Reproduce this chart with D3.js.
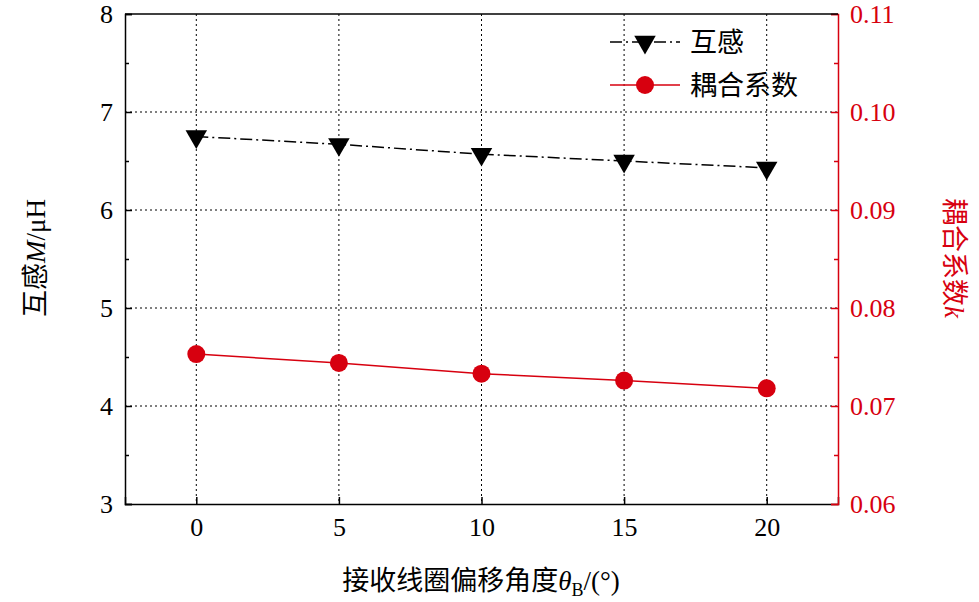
<!DOCTYPE html><html><head><meta charset="utf-8"><script src="https://cdn.jsdelivr.net/npm/d3@7"></script>
<style>body{margin:0;background:#fff}text{font-family:"Liberation Serif","Noto Sans CJK SC",serif}</style></head><body>
<svg id="c" width="979" height="602"></svg>
<script>
const angles=[0,5,10,15,20];
const mutual=[6.75,6.67,6.57,6.50,6.43];
const coupling=[0.0753,0.0744,0.0733,0.0726,0.0718];
const leftTicks=[3,4,5,6,7,8];
const rightTicks=[0.06,0.07,0.08,0.09,0.10,0.11];
const red="#d7000f";
const svg=d3.select("#c");
const L=125,R=838,T=14,B=504;
const x=d3.scaleLinear().domain([-2.5,22.5]).range([L,R]);
const y=d3.scaleLinear().domain([3,8]).range([B,T]);
const y2=d3.scaleLinear().domain([0.06,0.11]).range([B,T]);
const g=svg.append("g");
g.selectAll(".gx").data(angles).join("line").attr("x1",d=>x(d)).attr("x2",d=>x(d)).attr("y1",T).attr("y2",B).attr("stroke","#000").attr("stroke-dasharray","2,3").attr("stroke-width",1);
g.selectAll(".gy").data(leftTicks.slice(1,-1)).join("line").attr("y1",d=>y(d)).attr("y2",d=>y(d)).attr("x1",L).attr("x2",R).attr("stroke","#000").attr("stroke-dasharray","2,3").attr("stroke-width",1);
const fs="26px";
// minor ticks
svg.append("g").attr("transform",`translate(${L},0)`).call(d3.axisLeft(y).tickValues([3.5,4.5,5.5,6.5,7.5]).tickSize(-4).tickFormat("")).call(a=>a.select(".domain").remove()).selectAll("line").attr("stroke-width",1.5);
svg.append("g").attr("transform",`translate(${R},0)`).call(d3.axisRight(y2).tickValues([0.065,0.075,0.085,0.095,0.105]).tickSize(-4).tickFormat("")).call(a=>a.select(".domain").remove()).selectAll("line").attr("stroke",red).attr("stroke-width",1.5);
const ax=svg.append("g").attr("transform",`translate(0,${B})`).call(d3.axisBottom(x).tickValues(angles).tickSize(-7).tickPadding(14));
const ay=svg.append("g").attr("transform",`translate(${L},0)`).call(d3.axisLeft(y).tickValues(leftTicks).tickFormat(d3.format("d")).tickSize(-7).tickPadding(12));
const ay2=svg.append("g").attr("transform",`translate(${R},0)`).call(d3.axisRight(y2).tickValues(rightTicks).tickFormat(d3.format(".2f")).tickSize(-7).tickPadding(12));
[ax,ay,ay2].forEach(a=>{a.selectAll("text").style("font-size",fs);a.select(".domain").attr("stroke-width",1.5);a.selectAll(".tick line").attr("stroke-width",1.5);});
ay2.selectAll("text").attr("fill",red);ay2.select(".domain").attr("stroke",red);ay2.selectAll(".tick line").attr("stroke",red);
svg.append("line").attr("x1",L).attr("x2",R).attr("y1",T).attr("y2",T).attr("stroke","#000").attr("stroke-width",1.5);
svg.append("path").datum(angles.map((a,i)=>[a,mutual[i]])).attr("fill","none").attr("stroke","#000").attr("stroke-width",1.5).attr("stroke-dasharray","12,4,2,4").attr("d",d3.line().x(d=>x(d[0])).y(d=>y(d[1])));
svg.append("path").datum(angles.map((a,i)=>[a,coupling[i]])).attr("fill","none").attr("stroke",red).attr("stroke-width",1.5).attr("d",d3.line().x(d=>x(d[0])).y(d=>y2(d[1])));
const tri=d3.symbol().type(d3.symbolTriangle).size(200);
svg.selectAll(".t").data(angles).join("path").attr("d",tri).attr("transform",(d,i)=>`translate(${x(d)},${y(mutual[i])}) rotate(180)`).attr("fill","#000");
svg.selectAll(".c").data(angles).join("circle").attr("cx",d=>x(d)).attr("cy",(d,i)=>y2(coupling[i])).attr("r",9).attr("fill",red);
svg.append("line").attr("x1",610).attr("x2",680).attr("y1",42).attr("y2",42).attr("stroke","#000").attr("stroke-width",1.5).attr("stroke-dasharray","12,4,2,4");
svg.append("path").attr("d",tri).attr("transform","translate(645,42) rotate(180)");
svg.append("text").attr("x",690).attr("y",52).text("互感").style("font-size","27px");
svg.append("line").attr("x1",610).attr("x2",680).attr("y1",85).attr("y2",85).attr("stroke",red).attr("stroke-width",1.5);
svg.append("circle").attr("cx",645).attr("cy",85).attr("r",9).attr("fill",red);
svg.append("text").attr("x",690).attr("y",95).text("耦合系数").style("font-size","27px");
const xl=svg.append("text").attr("x",481).attr("y",590).attr("text-anchor","middle").style("font-size","27px");
xl.append("tspan").text("接收线圈偏移角度");xl.append("tspan").text("θ").style("font-style","italic");
xl.append("tspan").text("B").attr("dy",6).style("font-size","18px");xl.append("tspan").text("/(°)").attr("dy",-6);
const yl=svg.append("text").attr("transform","translate(45,258) rotate(-90)").attr("text-anchor","middle").style("font-size","27px");
yl.append("tspan").text("互感");yl.append("tspan").text("M").style("font-style","italic");yl.append("tspan").text("/μH");
const yr=svg.append("text").attr("transform","translate(945,258) rotate(90)").attr("text-anchor","middle").style("font-size","27px").attr("fill",red);
yr.append("tspan").text("耦合系数");yr.append("tspan").text("k").style("font-style","italic");
</script></body></html>
